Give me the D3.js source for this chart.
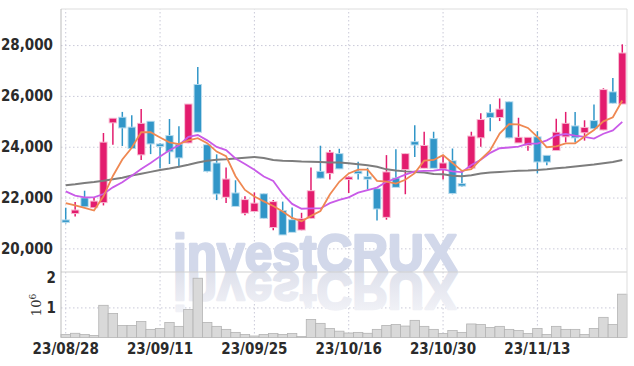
<!DOCTYPE html>
<html lang="en">
  <head>
    <meta charset="utf-8">
    <title>investCRUX candles</title>
    <script src="https://cdn.jsdelivr.net/npm/d3@7"></script>
    <style>
      body { margin: 0; background: #fff; }
      .tick text { font-family: 'Liberation Sans Narrow', 'DejaVu Sans Condensed', sans-serif; font-size: 15px; font-weight: bold; fill: #2b2b2b; }
    </style>
  </head>
  <body>
    <div id="chart"></div>

    <script type="text/javascript">
      let dates = ['23/08/28','23/08/29','23/08/30','23/08/31','23/09/01',
                   '23/09/04','23/09/05','23/09/06','23/09/07','23/09/08',
                   '23/09/11','23/09/12','23/09/13','23/09/14','23/09/15',
                   '23/09/18','23/09/19','23/09/20','23/09/21','23/09/22',
                   '23/09/25','23/09/26','23/09/27','23/10/04','23/10/05',
                   '23/10/06','23/10/10','23/10/11','23/10/12','23/10/13',
                   '23/10/16','23/10/17','23/10/18','23/10/19','23/10/20',
                   '23/10/23','23/10/24','23/10/25','23/10/26','23/10/27',
                   '23/10/30','23/10/31','23/11/01','23/11/02','23/11/03',
                   '23/11/06','23/11/07','23/11/08','23/11/09','23/11/10',
                   '23/11/13','23/11/14','23/11/15','23/11/16','23/11/17',
                   '23/11/20','23/11/21','23/11/22','23/11/23','23/11/24']

      let open  = [21100,21390,21970,21620,21820, 24960,25140,24750,23700,24980,
                   24090,24420,24080,24170,26430, 24060,23340,22030,22160,21400,
                   21470,22130,20840,21470,21110, 20740,21200,23010,22970,23710,
                   22750,23020,22800,22330,21240, 22750,23120,24180,23170,24300,
                   23150,23430,22530,23170,24370, 25320,25170,25750,24170,24070,
                   24370,23640,23870,24410,24800, 24570,25010,24680,26140,25700]
      let high  = [21600,21820,22270,22010,24540, 25130,25370,25240,25480,24990,
                   24150,25090,24810,25660,27140, 24080,23700,23180,22680,22050,
                   22200,22160,21900,21840,21610, 21400,23180,24040,23870,23920,
                   22840,23410,23170,22340,23670, 23900,23740,24850,24590,24590,
                   23670,23930,23050,24590,25320, 25670,25900,25780,25140,24370,
                   24610,23650,25100,25370,25370, 25040,25660,26300,26700,28030]
      let low   = [20980,21250,21650,21620,21690, 24080,24030,23910,23480,23710,
                   23150,23320,23190,24140,24580, 23000,21900,21790,21660,21300,
                   21470,21170,20710,20540,20640, 20710,21170,22750,22710,23120,
                   22180,22710,22320,21100,21130, 22420,22130,23600,23150,23170,
                   22710,22130,22420,23170,24000, 24610,25010,24330,24150,23840,
                   22950,23270,23840,24170,24170, 24240,24700,24650,25700,25680]
      let close = [21080,21490,21660,21840,24160, 25100,24760,23950,24900,24130,
                   24070,23820,23580,25660,24590, 23050,22160,22710,21670,21900,
                   21760,21200,21820,20550,20650, 21150,22250,22780,23760,23150,
                   22790,23000,22780,21570,22990, 22420,23710,24090,24030,23170,
                   23340,22180,22500,24400,25050, 25170,25460,24370,24350,24350,
                   23420,23420,24550,24900,24370, 24740,24730,26230,25730,27670]

      let ma5   = [21780,21690,21590,21490,22050, 22850,23500,23960,24570,24570,
                   24360,24170,24100,24250,24340, 24140,23810,23630,22840,22300,
                   22040,21850,21670,21450,21200, 21070,21280,21470,22120,22620,
                   22950,23100,23100,22660,22630, 22550,22700,22960,23450,23480,
                   23670,23360,23050,23120,23500, 23860,24520,24890,24880,24740,
                   24390,23980,24010,24130,24130, 24400,24660,25000,25160,25820]
      let ma10  = [22240,22080,22010,22010,22140, 22400,22600,22860,23120,23360,
                   23620,23860,24060,24390,24460, 24250,23990,23870,23540,23320,
                   23090,22830,22650,22140,21750, 21560,21570,21570,21780,21910,
                   22010,22190,22290,22390,22620, 22750,22900,23030,23050,23060,
                   23110,23030,23000,23280,23490, 23760,23940,23970,24000,24120,
                   24120,24250,24450,24500,24440, 24390,24320,24510,24640,24980]
      let ma60  = [22480,22520,22570,22610,22660, 22720,22780,22870,22940,23010,
                   23080,23140,23210,23290,23380, 23450,23490,23510,23540,23570,
                   23600,23560,23480,23450,23440, 23420,23410,23400,23380,23380,
                   23350,23310,23270,23210,23110, 23060,23030,23010,22990,22930,
                   22920,22860,22840,22880,22950, 22990,23010,23030,23050,23060,
                   23080,23110,23150,23180,23220, 23260,23300,23350,23400,23480]

      let volume = [100000,140000,100000,70000,1070000, 800000,400000,400000,530000,270000,
                    300000,500000,370000,930000,1970000, 500000,370000,270000,170000,100000,
                    50000,100000,130000,100000,130000, 30000,600000,470000,300000,210000,
                    150000,170000,140000,270000,400000, 430000,380000,570000,370000,270000,
                    130000,230000,170000,450000,430000, 330000,370000,270000,230000,130000,
                    300000,100000,370000,270000,270000, 100000,300000,670000,430000,1440000]

      let price_ticks = [20000, 22000, 24000, 26000, 28000]
      let volume_ticks = [1000000, 2000000]
      let date_ticks = ['23/08/28','23/09/11','23/09/25','23/10/16','23/10/30','23/11/13']

      let width = 634, height = 366
      let pane = {left: 61, right: 627, top: 9, split: 272, bottom: 337.5}

      let svg = d3.select('#chart').append('svg')
        .attr('width', width)
        .attr('height', height)

      let idx = d3.range(dates.length)
      let scale_x = d3.scaleBand().domain(idx).range([pane.left, pane.right])
      let scale_y = d3.scaleLinear().domain([19070, 29420]).range([pane.split, pane.top])
      let scale_v = d3.scaleLinear().domain([0, 2177000]).range([pane.bottom, pane.split])
      let cx = (i) => scale_x(i) + scale_x.bandwidth() / 2

      let grid_color = '#c9c9d8'

      // price axis with horizontal gridlines
      let y_axis = d3.axisLeft(scale_y)
        .tickValues(price_ticks)
        .tickSize(-(pane.right - pane.left))
        .tickPadding(8)
        .tickFormat(d3.format(','))
      svg.append('g')
        .attr('transform', 'translate(' + pane.left + ',0)')
        .call(y_axis)
        .call(g => g.select('.domain').remove())
        .call(g => g.selectAll('.tick line').attr('stroke', grid_color).attr('stroke-dasharray', '1.5,2.5'))

      // volume axis
      let v_axis = d3.axisLeft(scale_v)
        .tickValues(volume_ticks)
        .tickSize(-(pane.right - pane.left))
        .tickPadding(5)
        .tickFormat(d => d / 1e6)
      svg.append('g')
        .attr('transform', 'translate(' + pane.left + ',0)')
        .call(v_axis)
        .call(g => g.select('.domain').remove())
        .call(g => g.selectAll('.tick line')
          .attr('stroke', (d) => d < 2000000 ? grid_color : 'none')
          .attr('stroke-dasharray', '1.5,2.5'))

      let exp = svg.append('text')
        .attr('transform', 'translate(41,305) rotate(-90)')
        .attr('text-anchor', 'middle')
        .attr('font-family', 'DejaVu Serif, serif')
        .attr('font-size', '13px')
        .attr('fill', '#333')
        .text('10')
      exp.append('tspan').attr('dy', -5).attr('font-size', '9px').text('6')

      // date axis with vertical gridlines
      let tick_idx = date_ticks.map(d => dates.indexOf(d))
      let x_axis = d3.axisBottom(scale_x)
        .tickValues(tick_idx)
        .tickSize(-(pane.bottom - pane.top))
        .tickPadding(5.5)
        .tickFormat(i => dates[i])
      svg.append('g')
        .attr('transform', 'translate(0,' + pane.bottom + ')')
        .call(x_axis)
        .call(g => g.select('.domain').remove())
        .call(g => g.selectAll('.tick line').attr('stroke', grid_color).attr('stroke-dasharray', '1.5,2.5'))

      // watermark and its reflection
      let grad = svg.append('defs').append('linearGradient')
        .attr('id', 'fade').attr('x1', 0).attr('x2', 0).attr('y1', 0).attr('y2', 1)
      grad.append('stop').attr('offset', '0%').attr('stop-color', '#f5f5f9')
      grad.append('stop').attr('offset', '100%').attr('stop-color', '#dadde9')

      let mark = (fill, flip) => svg.append('text')
        .attr('x', 173).attr('y', pane.split - 1)
        .attr('transform', flip ? 'translate(0,' + (2 * pane.split) + ') scale(1,-1)' : null)
        .attr('font-family', 'Liberation Sans, Arial, sans-serif')
        .attr('font-weight', 'bold')
        .attr('font-size', '52px')
        .attr('textLength', 284)
        .attr('lengthAdjust', 'spacingAndGlyphs')
        .attr('fill', fill)
        .attr('stroke', fill)
        .attr('stroke-width', 2.5)
        .attr('stroke-linejoin', 'round')
        .text('investCRUX')
      mark('#d2d8ea', false)
      mark('url(#fade)', true)

      // volume bars
      svg.append('g').selectAll('rect')
        .data(idx)
        .enter()
        .append('rect')
        .attr('x', (i) => scale_x(i))
        .attr('y', (i) => scale_v(volume[i]))
        .attr('width', scale_x.bandwidth())
        .attr('height', (i) => pane.bottom - scale_v(volume[i]))
        .attr('fill', '#d9d9d9')
        .attr('stroke', '#b3b3b3')
        .attr('stroke-width', 0.8)

      // frame
      let frame = svg.append('g').attr('fill', 'none')
      frame.append('line').attr('x1', pane.left).attr('x2', pane.right).attr('y1', pane.top).attr('y2', pane.top).attr('stroke', '#ddd')
      frame.append('line').attr('x1', pane.left).attr('x2', pane.right).attr('y1', pane.split).attr('y2', pane.split).attr('stroke', '#cfcfcf')
      frame.append('line').attr('x1', pane.left).attr('x2', pane.left).attr('y1', pane.top).attr('y2', pane.bottom).attr('stroke', '#bbb')
      frame.append('line').attr('x1', pane.right).attr('x2', pane.right).attr('y1', pane.top).attr('y2', pane.bottom).attr('stroke', '#ddd')

      // candles
      let up = '#e31c6e', down = '#3196c8'
      let up_halo = '#f7b9d1', down_halo = '#b3d9ec'
      let body_w = scale_x.bandwidth() * 0.68
      let candles = svg.append('g').selectAll('g')
        .data(idx)
        .enter()
        .append('g')
      candles.append('line')
        .attr('x1', cx).attr('x2', cx)
        .attr('y1', (i) => scale_y(high[i]))
        .attr('y2', (i) => scale_y(low[i]))
        .attr('stroke', (i) => close[i] >= open[i] ? up : down)
        .attr('stroke-width', 1.5)
      candles.append('rect')
        .attr('x', (i) => cx(i) - body_w / 2 - 1)
        .attr('y', (i) => scale_y(Math.max(open[i], close[i])) - 1)
        .attr('width', body_w + 2)
        .attr('height', (i) => Math.max(1.5, Math.abs(scale_y(open[i]) - scale_y(close[i]))) + 2)
        .attr('fill', (i) => close[i] >= open[i] ? up_halo : down_halo)
      candles.append('rect')
        .attr('x', (i) => cx(i) - body_w / 2)
        .attr('y', (i) => scale_y(Math.max(open[i], close[i])))
        .attr('width', body_w)
        .attr('height', (i) => Math.max(1.5, Math.abs(scale_y(open[i]) - scale_y(close[i]))))
        .attr('fill', (i) => close[i] >= open[i] ? up : down)

      // moving averages
      let ma_line = (arr) => d3.line().x((d, i) => cx(i)).y((d) => scale_y(d))(arr)
      svg.append('path').attr('d', ma_line(ma60)).attr('fill', 'none').attr('stroke', '#7d7d7d').attr('stroke-width', 2)
      svg.append('path').attr('d', ma_line(ma10)).attr('fill', 'none').attr('stroke', '#c95be8').attr('stroke-width', 1.8)
      svg.append('path').attr('d', ma_line(ma5)).attr('fill', 'none').attr('stroke', '#ef8852').attr('stroke-width', 1.8)
    </script>
  </body>
</html>
